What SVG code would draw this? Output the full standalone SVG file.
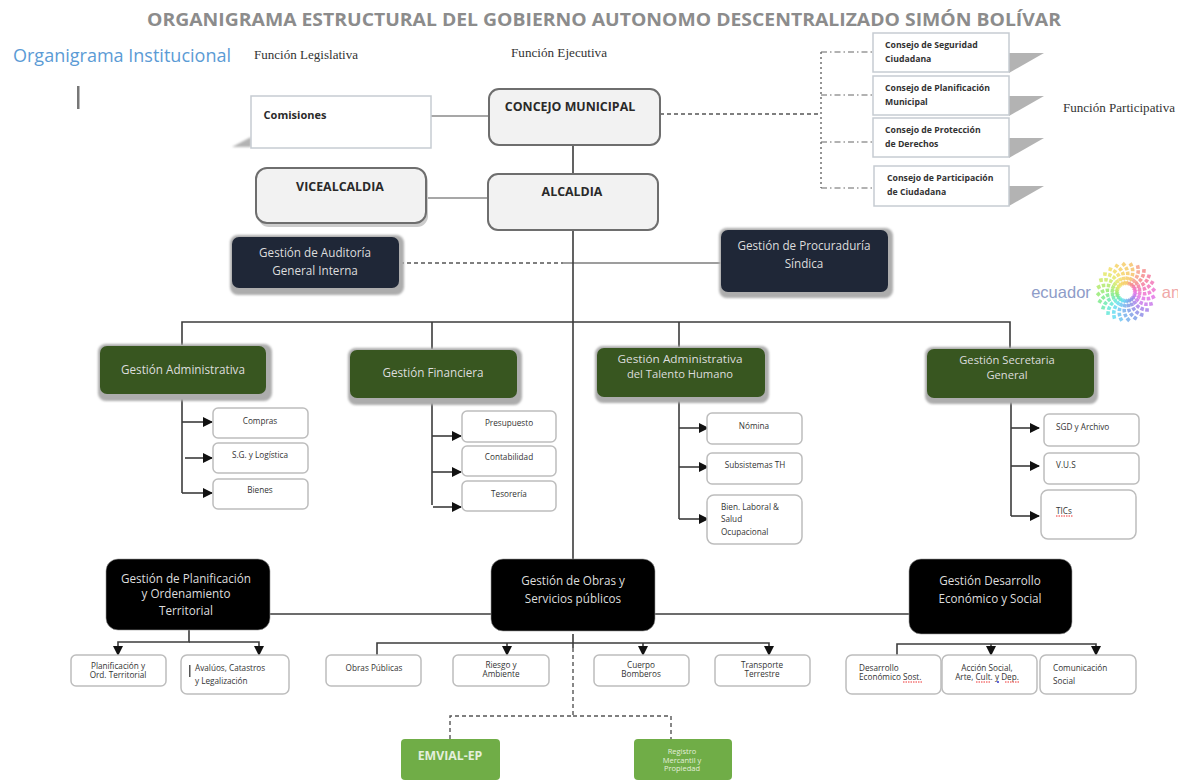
<svg xmlns="http://www.w3.org/2000/svg" width="1178" height="780" viewBox="0 0 1178 780">
<style>
text{font-family:"Open Sans","Noto Sans","Liberation Sans",sans-serif;text-anchor:middle}
.s{font-family:"Liberation Serif",serif;font-size:12px;fill:#333;text-anchor:start}
.ln{fill:none;stroke:#3c3c3c;stroke-width:1.6}
.gl{fill:none;stroke:#8a8a8a;stroke-width:1.5}
.dash{fill:none;stroke:#555;stroke-width:1.4;stroke-dasharray:4 3}
.dd{fill:none;stroke:#666;stroke-width:1.2;stroke-dasharray:6 3 1.5 3}
.dot{fill:none;stroke:#666;stroke-width:1.4;stroke-dasharray:2 3}
.wb{fill:#fff;stroke:#c6ccd2;stroke-width:1.5}
.sm{fill:#fff;stroke:#bdbdbd;stroke-width:1.5}
.gy{fill:#f2f2f2;stroke:#6e6e6e;stroke-width:2}
.nv{fill:#1f2737}
.gr{fill:#385620}
.bk{fill:#000;stroke:#999;stroke-width:.6}
.lg{fill:#70ad47}
.sh{fill:#b3b3b3}
.hl{fill:#adadad;filter:url(#b)}
.wt{fill:#ddd;font-size:11.7px}
.wl{fill:#ddd;font-size:11.2px}
.tb{fill:#2a2a2a;font-weight:700;font-size:12.4px}
.t7{fill:#333;font-size:8.2px}
.st{text-anchor:start}
.tc{fill:#333;font-size:8.7px;font-weight:700;text-anchor:start}
.red{stroke:#e33;stroke-width:1;stroke-dasharray:1.5 1;fill:none}
.arm{fill:none;stroke-width:3.6;stroke-dasharray:3.5 1.5;opacity:.85}
.lo{font-family:"Liberation Sans",sans-serif;font-size:16.500px}
</style>
<defs>
<filter id="b" x="-10%" y="-20%" width="120%" height="140%"><feGaussianBlur stdDeviation="1.2"/></filter>
<marker id="a" markerWidth="11" markerHeight="11" refX="9" refY="5" orient="auto" markerUnits="userSpaceOnUse"><path d="M0 0L10 5L0 10Z" fill="#111"/></marker>
<path id="p" d="M0-8C7-13 9-21 4-29"/>
</defs>

<text x="604" y="26" font-size="18" font-weight="700" fill="#8c8c8c" textLength="914" lengthAdjust="spacingAndGlyphs">ORGANIGRAMA ESTRUCTURAL DEL GOBIERNO AUTONOMO DESCENTRALIZADO SIMÓN BOLÍVAR</text>
<text x="122" y="62" font-size="18" fill="#5b9bd5" textLength="218" lengthAdjust="spacingAndGlyphs">Organigrama Institucional</text>
<text class="s" x="254" y="59" textLength="104" lengthAdjust="spacingAndGlyphs">Función Legislativa</text>
<text class="s" x="511" y="57" textLength="96" lengthAdjust="spacingAndGlyphs">Función Ejecutiva</text>
<text class="s" x="1063" y="112" textLength="112" lengthAdjust="spacingAndGlyphs">Función Participativa</text>
<rect x="77" y="86" width="2.5" height="23" fill="#777"/>

<g id="connectors">
<path class="gl" d="M431 116H489M426 198H488"/>
<path class="ln" d="M573 146V173M573 231V559M182 345V322H1010V348M432 322V349M679 322V347"/>
<path class="dash" d="M400 263H563"/>
<path class="ln" d="M563 263H721" style="stroke-width:1.2"/>
<path class="dash" d="M660 114H820"/>
<path class="dot" d="M821 52V188"/>
<path class="dd" d="M821 52H873M821 95H873M821 142H873M821 188H873"/>
<path class="ln" d="M182 398V493"/>
<path class="ln" marker-end="url(#a)" d="M182 422H212"/><path class="ln" marker-end="url(#a)" d="M185 458H212"/><path class="ln" marker-end="url(#a)" d="M182 493H212"/>
<path class="ln" d="M432 402V505"/>
<path class="ln" marker-end="url(#a)" d="M432 436H461"/><path class="ln" marker-end="url(#a)" d="M432 472H461"/><path class="ln" marker-end="url(#a)" d="M433 507H461"/>
<path class="ln" d="M679 400V519"/>
<path class="ln" marker-end="url(#a)" d="M679 428H708"/><path class="ln" marker-end="url(#a)" d="M679 467H708"/><path class="ln" marker-end="url(#a)" d="M679 519H708"/>
<path class="ln" d="M1011 400V516"/>
<path class="ln" marker-end="url(#a)" d="M1011 428H1039"/><path class="ln" marker-end="url(#a)" d="M1011 466H1039"/><path class="ln" marker-end="url(#a)" d="M1011 516H1039"/>
<path class="ln" d="M270 614H491M655 614H909"/>
<path class="ln" d="M189 630V642H118V655" marker-end="url(#a)"/><path class="ln" d="M189 642H259V655" marker-end="url(#a)"/>
<path class="ln" d="M377 655V643H769V655" marker-end="url(#a)"/><path class="ln" d="M507 643V655" marker-end="url(#a)"/><path class="ln" d="M643 643V655" marker-end="url(#a)"/>
<path class="ln" d="M573 634V648"/>
<path class="dash" d="M573 648V716H450V739M573 716H671V739"/>
<path class="ln" d="M897 655V644H1096V655" marker-end="url(#a)"/><path class="ln" d="M991 644V655" marker-end="url(#a)"/>
</g>

<g id="consejo-seguridad"><path class="sh" d="M1009 53H1044L1009 73Z"/><rect class="wb" x="873" y="33" width="136" height="39"/><text class="tc" x="885" y="48">Consejo de Seguridad</text><text class="tc" x="885" y="62">Ciudadana</text></g>
<g id="consejo-planificacion"><path class="sh" d="M1009 96H1044L1009 116Z"/><rect class="wb" x="873" y="76" width="136" height="39"/><text class="tc" x="885" y="91">Consejo de Planificación</text><text class="tc" x="885" y="105">Municipal</text></g>
<g id="consejo-proteccion"><path class="sh" d="M1009 138H1044L1009 158Z"/><rect class="wb" x="873" y="118" width="136" height="39"/><text class="tc" x="885" y="133">Consejo de Protección</text><text class="tc" x="885" y="147">de Derechos</text></g>
<g id="consejo-participacion"><path class="sh" d="M1009 186H1044L1009 206Z"/><rect class="wb" x="874" y="166" width="135" height="40"/><text class="tc" x="887" y="181">Consejo de Participación</text><text class="tc" x="887" y="195">de Ciudadana</text></g>

<g id="comisiones"><path class="sh" d="M251 137L232 147H251Z" filter="url(#b)"/><rect class="wb" x="251" y="96" width="180" height="52"/><text x="295" y="119" class="tb" style="font-size:11px">Comisiones</text></g>
<g id="concejo"><rect class="gy" x="489" y="89" width="171" height="56" rx="10"/><text x="570" y="111" class="tb">CONCEJO  MUNICIPAL</text></g>
<g id="vicealcaldia"><rect x="258" y="171" width="170" height="56" rx="11" fill="#ccc"/><rect class="gy" x="256" y="168" width="170" height="55" rx="11"/><text x="340" y="191" class="tb">VICEALCALDIA</text></g>
<g id="alcaldia"><rect class="gy" x="488" y="174" width="170" height="56" rx="10"/><text x="572" y="196" class="tb">ALCALDIA</text></g>

<g id="auditoria"><rect class="hl" x="230" y="235" width="174" height="60" rx="8"/><rect class="nv" x="232" y="237" width="167" height="51" rx="7"/><text class="wt" x="315" y="257">Gestión de Auditoría</text><text class="wt" x="315" y="275">General Interna</text></g>
<g id="procuraduria"><rect class="hl" x="719" y="228" width="174" height="70" rx="8"/><rect class="nv" x="721" y="230" width="167" height="62" rx="7"/><text class="wt" x="804" y="250">Gestión de Procuraduría</text><text class="wt" x="804" y="268">Síndica</text></g>

<g id="logo"><text class="lo" x="1061" y="298" fill="#8e9cc8">ecuador</text><text class="lo" x="1171" y="298" fill="#f0a8a8">an</text>
<g transform="translate(1126 292)">
<use href="#p" class="arm" stroke="#f6c36b"/><use href="#p" class="arm" stroke="#f6a08a" transform="rotate(15)"/><use href="#p" class="arm" stroke="#f58b8b" transform="rotate(30)"/><use href="#p" class="arm" stroke="#f47ca0" transform="rotate(45)"/><use href="#p" class="arm" stroke="#f277b8" transform="rotate(60)"/><use href="#p" class="arm" stroke="#ee74d0" transform="rotate(75)"/><use href="#p" class="arm" stroke="#e376e6" transform="rotate(90)"/><use href="#p" class="arm" stroke="#c97bea" transform="rotate(105)"/><use href="#p" class="arm" stroke="#a884ea" transform="rotate(120)"/><use href="#p" class="arm" stroke="#8f8fe6" transform="rotate(135)"/><use href="#p" class="arm" stroke="#7f9fe6" transform="rotate(150)"/><use href="#p" class="arm" stroke="#78b0ec" transform="rotate(165)"/><use href="#p" class="arm" stroke="#70c6f2" transform="rotate(180)"/><use href="#p" class="arm" stroke="#66dcf0" transform="rotate(195)"/><use href="#p" class="arm" stroke="#66e8d8" transform="rotate(210)"/><use href="#p" class="arm" stroke="#6eeab0" transform="rotate(225)"/><use href="#p" class="arm" stroke="#7eea8c" transform="rotate(240)"/><use href="#p" class="arm" stroke="#96ea74" transform="rotate(255)"/><use href="#p" class="arm" stroke="#b2ea6c" transform="rotate(270)"/><use href="#p" class="arm" stroke="#cdea6a" transform="rotate(285)"/><use href="#p" class="arm" stroke="#e4e86a" transform="rotate(300)"/><use href="#p" class="arm" stroke="#f2de6a" transform="rotate(315)"/><use href="#p" class="arm" stroke="#f6d46a" transform="rotate(330)"/><use href="#p" class="arm" stroke="#f6cc6a" transform="rotate(345)"/>
</g></g>

<g id="g-admin"><rect class="hl" x="98" y="344" width="174" height="57" rx="8"/><rect class="gr" x="100" y="346" width="166" height="48" rx="7"/><text class="wt" x="183" y="374">Gestión Administrativa</text></g>
<g id="g-fin"><rect class="hl" x="348" y="348" width="174" height="57" rx="8"/><rect class="gr" x="350" y="350" width="167" height="48" rx="7"/><text class="wt" x="433" y="377">Gestión  Financiera</text></g>
<g id="g-th"><rect class="hl" x="595" y="346" width="174" height="57" rx="8"/><rect class="gr" x="597" y="348" width="168" height="49" rx="7"/><text class="wl" x="680" y="363" textLength="125" lengthAdjust="spacingAndGlyphs">Gestión Administrativa</text><text class="wl" x="680" y="378">del Talento Humano</text></g>
<g id="g-sec"><rect class="hl" x="925" y="347" width="173" height="57" rx="8"/><rect class="gr" x="927" y="349" width="167" height="49" rx="7"/><text class="wl" x="1007" y="364">Gestión  Secretaria</text><text class="wl" x="1007" y="379">General</text></g>

<g id="compras"><rect class="sm" x="213" y="408" width="95" height="30" rx="5"/><text class="t7" x="260" y="424">Compras</text></g>
<g id="sg"><rect class="sm" x="213" y="443" width="95" height="30" rx="5"/><text class="t7" x="260" y="458">S.G. y Logística</text></g>
<g id="bienes"><rect class="sm" x="213" y="479" width="95" height="30" rx="5"/><text class="t7" x="260" y="493">Bienes</text></g>
<g id="presupuesto"><rect class="sm" x="462" y="411" width="94" height="31" rx="5"/><text class="t7" x="509" y="426">Presupuesto</text></g>
<g id="contabilidad"><rect class="sm" x="462" y="446" width="94" height="30" rx="5"/><text class="t7" x="509" y="460">Contabilidad</text></g>
<g id="tesoreria"><rect class="sm" x="462" y="481" width="94" height="30" rx="5"/><text class="t7" x="509" y="497">Tesorería</text></g>
<g id="nomina"><rect class="sm" x="707" y="413" width="95" height="31" rx="5"/><text class="t7" x="754" y="429">Nómina</text></g>
<g id="subsistemas"><rect class="sm" x="707" y="453" width="95" height="31" rx="5"/><text class="t7" x="755" y="468">Subsistemas TH</text></g>
<g id="bien"><rect class="sm" x="707" y="495" width="95" height="49" rx="7"/><text class="t7 st" x="721" y="510">Bien. Laboral &amp;</text><text class="t7 st" x="721" y="522">Salud</text><text class="t7 st" x="721" y="535">Ocupacional</text></g>
<g id="sgd"><rect class="sm" x="1044" y="414" width="95" height="32" rx="5"/><text class="t7 st" x="1056" y="430">SGD y Archivo</text></g>
<g id="vus"><rect class="sm" x="1044" y="453" width="95" height="31" rx="5"/><text class="t7 st" x="1056" y="468">V.U.S</text></g>
<g id="tics"><rect class="sm" x="1041" y="490" width="95" height="49" rx="7"/><text class="t7 st" x="1056" y="514">TICs</text><path class="red" d="M1056 516H1073"/></g>

<g id="g-plan"><rect class="bk" x="106" y="559" width="164" height="71" rx="12"/><text class="wt" x="186" y="583">Gestión de Planificación</text><text class="wt" x="186" y="598">y Ordenamiento</text><text class="wt" x="186" y="615">Territorial</text></g>
<g id="g-obras"><rect class="bk" x="491" y="559" width="164" height="72" rx="12"/><text class="wt" x="573" y="585">Gestión de Obras  y</text><text class="wt" x="573" y="603">Servicios públicos</text></g>
<g id="g-des"><rect class="bk" x="909" y="559" width="163" height="75" rx="12"/><text class="wt" x="990" y="585">Gestión Desarrollo</text><text class="wt" x="990" y="603">Económico y Social</text></g>

<g id="plan1"><rect class="sm" x="71" y="655" width="95" height="31" rx="5"/><text class="t7" x="118" y="669">Planificación y</text><text class="t7" x="118" y="678">Ord. Territorial</text></g>
<g id="avaluos"><rect class="sm" x="181" y="655" width="108" height="39" rx="6"/><rect x="189" y="665" width="1.5" height="12" fill="#555"/><text class="t7 st" x="195" y="671">Avalúos,  Catastros</text><text class="t7 st" x="195" y="684">y Legalización</text></g>
<g id="obras"><rect class="sm" x="326" y="655" width="95" height="31" rx="5"/><text class="t7" x="374" y="671">Obras Públicas</text></g>
<g id="riesgo"><rect class="sm" x="453" y="655" width="96" height="31" rx="5"/><text class="t7" x="501" y="668">Riesgo y</text><text class="t7" x="501" y="677">Ambiente</text></g>
<g id="cuerpo"><rect class="sm" x="594" y="655" width="95" height="31" rx="5"/><text class="t7" x="641" y="668">Cuerpo</text><text class="t7" x="641" y="677">Bomberos</text></g>
<g id="transporte"><rect class="sm" x="715" y="655" width="95" height="31" rx="5"/><text class="t7" x="762" y="668">Transporte</text><text class="t7" x="762" y="677">Terrestre</text></g>
<g id="desarrollo"><rect class="sm" x="846" y="655" width="95" height="39" rx="6"/><text class="t7 st" x="859" y="671">Desarrollo</text><text class="t7 st" x="859" y="680">Económico Sost.</text><path class="red" d="M903 682H922"/></g>
<g id="accion"><rect class="sm" x="942" y="655" width="95" height="39" rx="6"/><text class="t7" x="987" y="671">Acción Social,</text><text class="t7" x="987" y="680">Arte, Cult. y Dep.</text><path class="red" d="M976 682H991M1005 682H1020"/><path d="M997 682H999" stroke="#33c" stroke-width="1.5"/></g>
<g id="comunicacion"><rect class="sm" x="1040" y="655" width="96" height="39" rx="6"/><text class="t7 st" x="1053" y="671">Comunicación</text><text class="t7 st" x="1053" y="684">Social</text></g>

<g id="emvial"><rect class="lg" x="401" y="739" width="99" height="41" rx="4"/><text x="450" y="760" font-size="12.300" font-weight="700" fill="#e4efdc">EMVIAL-EP</text></g>
<g id="registro"><rect class="lg" x="634" y="739" width="98" height="41" rx="4"/><text x="682" y="754" font-size="7.500" fill="#e4efdc">Registro</text><text x="682" y="763" font-size="7.500" fill="#e4efdc">Mercantil y</text><text x="682" y="771" font-size="7.500" fill="#e4efdc">Propiedad</text></g>
</svg>
